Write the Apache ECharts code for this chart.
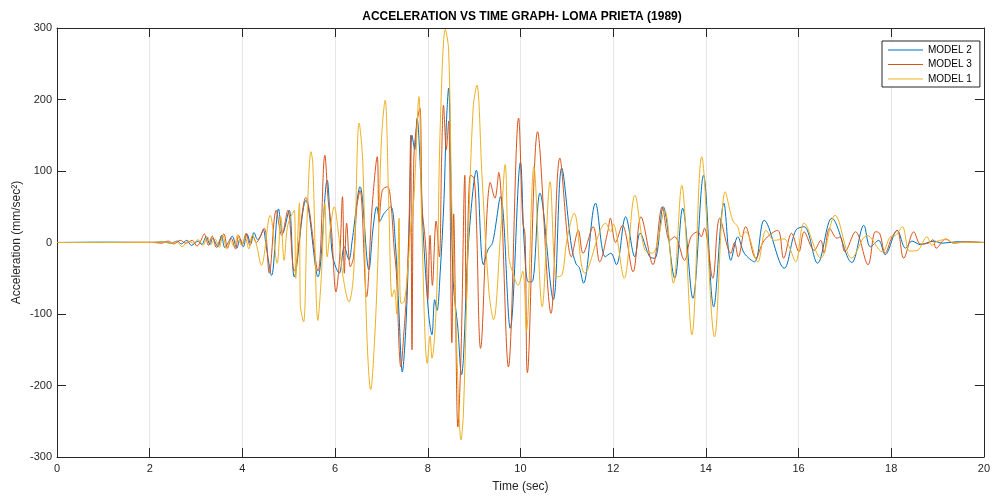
<!DOCTYPE html>
<html>
<head>
<meta charset="utf-8">
<script src="https://cdn.jsdelivr.net/npm/echarts@6/dist/echarts.min.js"></script>
<style>
html,body{margin:0;padding:0;background:#fff;}
#chart{width:993px;height:500px;}
</style>
</head>
<body>
<div id="chart"></div>
<script>
// ---- Data (time in sec, acceleration in mm/sec^2) ----
const seriesNames = ['MODEL 2', 'MODEL 3', 'MODEL 1'];
const xTicks = [0, 2, 4, 6, 8, 10, 12, 14, 16, 18, 20];
const yTicks = [-300, -200, -100, 0, 100, 200, 300];

const tModel2 = [0,1,2,2.3,2.45,2.6,2.68,2.8,2.9,3.05,3.12,3.22,3.3,3.36,3.47,3.55,3.62,3.72,3.78,3.88,3.95,4.02,4.1,4.18,4.25,4.33,4.4,4.45,4.52,4.63,4.78,4.87,5.01,5.12,5.37,5.63,5.83,5.9,5.95,6.09,6.2,6.3,6.37,6.54,6.73,6.82,6.9,6.97,7.05,7.2,7.3,7.38,7.45,7.53,7.6,7.66,7.72,7.77,7.83,7.9,8.02,8.09,8.15,8.2,8.27,8.35,8.4,8.45,8.5,8.55,8.65,8.73,8.77,8.88,9.05,9.2,9.3,9.4,9.57,9.78,10.0,10.08,10.17,10.25,10.42,10.71,10.89,11.1,11.2,11.27,11.36,11.62,11.83,11.95,12.07,12.27,12.47,12.58,12.79,12.9,13.08,13.33,13.5,13.72,13.95,14.17,14.39,14.54,14.69,14.83,15.05,15.26,15.69,15.94,16.12,16.41,16.72,17.15,17.41,17.55,17.73,17.87,18.13,18.31,18.45,18.63,18.92,19.1,19.4,20];
const vModel2 = [0,0.5,0,1,-1,2,-2,3,-4,2,-3,8,-3,6,-6,10,-7,3,9,-8,5,-6,12,-2,14,4,10,18,-8,-46,47,13,45,-48,59,-48,87,22,-20,-43,-6,-24,3,78,-38,20,50,30,40,50,0,-100,-181,-115,20,150,130,174,120,15,-101,-129,-80,-95,-40,60,164,216,90,-55,-120,-185,-162,0,101,-31,-10,0,64,-120,112,0,-55,-55,69,-80,104,-5,-30,-35,-57,55,-20,-15,-31,36,-20,13,-20,-22,50,-50,48,-78,94,-90,55,-25,8,-15,-27,31,-36,17,22,-29,34,-28,24,-6,3,-17,17,-8,2,-3,2,-1,1,0];

const tModel3 = [0,1,2,2.25,2.4,2.52,2.66,2.78,2.92,3.02,3.1,3.18,3.27,3.35,3.44,3.52,3.6,3.68,3.76,3.85,3.92,4.0,4.08,4.16,4.22,4.3,4.47,4.58,4.73,4.85,4.98,5.12,5.37,5.63,5.78,5.85,5.92,6.02,6.1,6.16,6.2,6.25,6.33,6.4,6.47,6.54,6.68,6.8,6.91,6.95,7.02,7.13,7.2,7.28,7.32,7.42,7.5,7.55,7.6,7.63,7.66,7.7,7.77,7.83,7.88,7.93,7.97,8.0,8.05,8.1,8.18,8.25,8.3,8.34,8.4,8.45,8.52,8.56,8.6,8.65,8.72,8.8,8.83,8.92,9.0,9.05,9.14,9.35,9.45,9.53,9.74,9.96,10.05,10.1,10.15,10.37,10.66,10.85,11.1,11.25,11.35,11.57,11.71,11.89,11.94,12.05,12.2,12.43,12.6,12.86,13.06,13.22,13.33,13.54,13.68,13.83,13.9,13.97,14.15,14.3,14.54,14.62,14.7,14.86,15.08,15.26,15.55,15.68,15.85,16.01,16.12,16.34,16.48,16.55,16.67,16.83,16.9,17.0,17.23,17.5,17.66,17.75,17.87,18.02,18.13,18.27,18.49,18.63,18.8,18.9,18.97,19.18,19.35,19.6,20];
const vModel3 = [0,0,0.5,-1,2,-2,3,-1,3,-5,2,12,-4,9,-7,4,12,-8,6,-9,10,-3,13,-4,10,0,20,-43,45,10,45,-40,63,-40,122,60,20,-69,-20,64,-43,27,-34,-20,50,73,-76,50,120,28,73,78,59,-13,-39,-174,-113,-60,38,150,-150,118,169,188,45,15,-20,-80,10,-60,30,-20,120,192,130,170,-140,40,-100,-258,-150,94,-83,94,90,30,-148,84,62,98,-174,174,30,10,-182,155,-99,118,-20,17,-15,22,-27,17,34,0,24,-41,36,-31,50,3,8,-25,8,15,8,20,-50,34,-15,0,-20,22,-22,3,17,-22,13,-13,15,-11,3,-15,20,6,8,-13,15,-31,15,13,-15,8,17,-22,15,-2,-1,4,-8,5,-1,1,0];

const tModel1 = [0,1,2,2.28,2.42,2.58,2.7,2.83,2.95,3.04,3.15,3.24,3.33,3.41,3.5,3.58,3.66,3.74,3.82,3.9,3.98,4.06,4.14,4.22,4.3,4.41,4.6,4.75,4.83,4.9,4.98,5.12,5.15,5.23,5.25,5.32,5.4,5.48,5.52,5.63,5.7,5.78,5.83,5.9,5.98,6.09,6.16,6.3,6.4,6.52,6.6,6.68,6.77,6.85,6.92,7.0,7.08,7.16,7.23,7.28,7.33,7.38,7.42,7.49,7.56,7.64,7.7,7.81,7.87,7.99,8.05,8.09,8.19,8.27,8.38,8.45,8.52,8.6,8.72,8.77,8.88,8.98,9.06,9.17,9.32,9.42,9.57,9.67,9.75,9.85,9.95,10.05,10.13,10.29,10.47,10.64,10.78,10.9,11.0,11.16,11.39,11.84,11.95,12.0,12.24,12.47,12.68,12.85,13.11,13.3,13.48,13.7,13.91,14.19,14.42,14.58,14.69,14.76,14.86,15.12,15.3,15.48,15.69,15.8,15.94,16.12,16.48,16.79,17.15,17.48,17.81,17.98,18.1,18.24,18.4,18.57,18.77,18.88,19.0,19.2,19.35,19.6,20];
const vModel1 = [0,0,0,1,-1,1,-6,2,-1,4,-4,8,-2,5,-7,10,-9,3,-6,11,-4,7,-9,10,-2,-32,38,-29,36,-25,24,45,-50,55,-87,-111,40,127,110,-109,-52,55,-20,20,50,3,-43,-83,-43,167,110,-118,-206,-140,-32,143,199,50,-76,-66,-100,34,-85,-83,-45,27,60,204,27,-169,-131,-162,-80,164,298,270,48,-100,-276,-237,15,188,220,94,-69,-108,12,109,-20,-45,-60,-40,-123,106,-90,85,-48,-45,3,41,-43,27,15,26,-50,66,-10,-15,45,-57,80,-129,120,-132,71,31,22,8,15,-27,17,3,5,-6,-27,27,-22,38,-22,10,-13,8,10,22,-12,-11,8,-4,2,4,-1,0.5,0];

// ---- Build ----
function pairs(t, v) { return t.map((x, i) => [x, v[i]]); }
const colors = ['#0072BD', '#D95319', '#EDB120'];
const seriesData = [pairs(tModel2, vModel2), pairs(tModel3, vModel3), pairs(tModel1, vModel1)];

const FONT = 'Liberation Sans, Arial, Helvetica, sans-serif';
const AX = '#262626';

const chart = echarts.init(document.getElementById('chart'), null, {renderer: 'canvas'});

const axisCommon = {
  axisLine: {show: true, onZero: false, lineStyle: {color: AX, width: 1}},
  axisTick: {show: true, inside: true, length: 9, lineStyle: {color: AX, width: 1}},
};

const option = {
  backgroundColor: '#ffffff',
  animation: false,
  color: colors,
  grid: {left: 57, right: 6, top: 28, bottom: 43, containLabel: false},
  graphic: [{
    type: 'text', x: 522, y: 11, z: 10,
    style: {text: 'ACCELERATION VS TIME GRAPH- LOMA PRIETA (1989)', textAlign: 'center',
            font: 'bold 12px ' + FONT, fill: '#000'}
  }],
  legend: {
    data: seriesNames.map(n => ({name: n, icon: 'rect'})),
    orient: 'vertical',
    left: 882, top: 41,
    itemWidth: 35, itemHeight: 1.2, itemGap: 4.5,
    padding: [4, 8, 3, 6],
    borderColor: AX, borderWidth: 1, backgroundColor: '#fff',
    textStyle: {fontFamily: FONT, fontSize: 10, color: '#000', lineHeight: 10},
    selectedMode: false
  },
  xAxis: [{
    type: 'value', min: 0, max: 20, interval: 2, position: 'bottom',
    name: 'Time (sec)', nameLocation: 'middle', nameGap: 24,
    nameTextStyle: {fontFamily: FONT, fontSize: 12, color: AX},
    ...axisCommon,
    axisLabel: {fontFamily: FONT, fontSize: 11, color: AX, margin: 6},
    splitLine: {show: true, lineStyle: {color: '#e6e6e6', width: 1}}
  }, {
    type: 'value', min: 0, max: 20, interval: 2, position: 'top',
    ...axisCommon, axisLabel: {show: false}, splitLine: {show: false}
  }],
  yAxis: [{
    type: 'value', min: -300, max: 300, interval: 100, position: 'left',
    name: 'Acceleration (mm/sec²)', nameLocation: 'middle', nameGap: 34,
    nameMoveOverlap: false,
    nameTextStyle: {fontFamily: FONT, fontSize: 12, color: AX},
    ...axisCommon,
    axisLabel: {fontFamily: FONT, fontSize: 11, color: AX, margin: 5},
    splitLine: {show: false}
  }, {
    type: 'value', min: -300, max: 300, interval: 100, position: 'right',
    ...axisCommon, axisLabel: {show: false}, splitLine: {show: false}
  }],
  series: seriesNames.map((name, i) => ({
    name: name,
    type: 'line',
    data: seriesData[i],
    symbol: 'none',
    smooth: 0.35,
    lineStyle: {width: 1, color: colors[i]},
    itemStyle: {color: colors[i]},
    clip: true
  }))
};
chart.setOption(option);
</script>
</body>
</html>
